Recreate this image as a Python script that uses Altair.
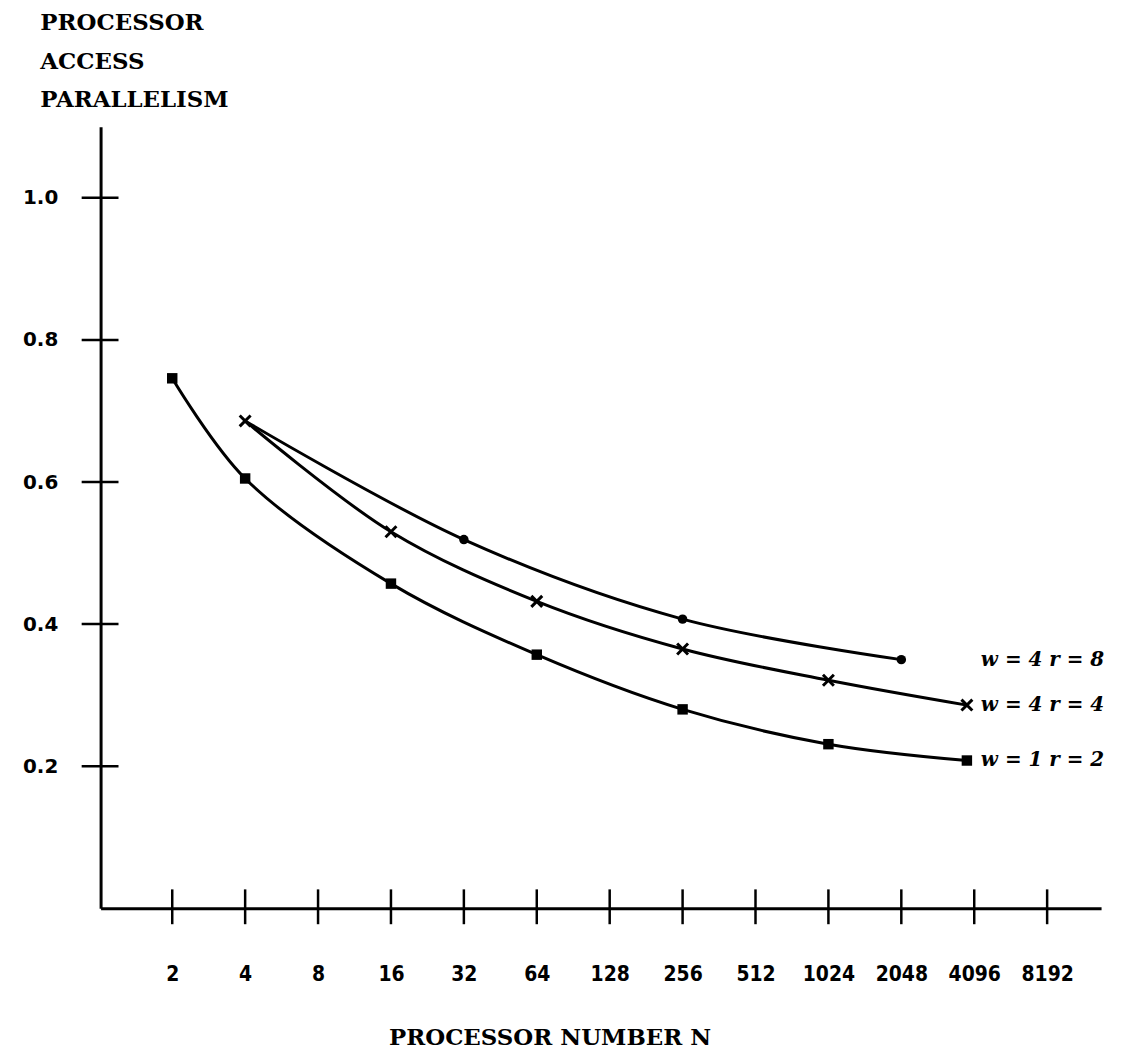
import altair as alt
import pandas as pd

# ---- data ----
N_w1r2 = [2, 4, 16, 64, 256, 1024, 3820]
P_w1r2 = [0.746, 0.605, 0.457, 0.357, 0.280, 0.231, 0.208]

N_w4r4 = [4, 16, 64, 256, 1024, 3820]
P_w4r4 = [0.686, 0.530, 0.432, 0.365, 0.321, 0.286]

N_w4r8 = [4, 32, 256, 2048]
P_w4r8 = [0.686, 0.519, 0.407, 0.350]

series_names = ["w=1 r=2", "w=4 r=4", "w=4 r=8"]
series_labels = ["w = 1   r = 2", "w = 4   r = 4", "w = 4   r = 8"]
label_N = [3820, 3820, 3820]
label_P = [0.208, 0.286, 0.350]

x_ticks = [2, 4, 8, 16, 32, 64, 128, 256, 512, 1024, 2048, 4096, 8192]
y_ticks = [0.2, 0.4, 0.6, 0.8, 1.0]

rows = []
for s, ns, ps in zip(series_names, [N_w1r2, N_w4r4, N_w4r8], [P_w1r2, P_w4r4, P_w4r8]):
    for n, p in zip(ns, ps):
        rows.append({"series": s, "N": n, "P": p})
df = pd.DataFrame(rows)
lab_df = pd.DataFrame({"series": series_names, "label": series_labels, "N": label_N, "P": label_P})
xt_df = pd.DataFrame({"N": x_ticks})
yt_df = pd.DataFrame({"P": y_ticks})

W, H = 1005, 785
xscale = alt.Scale(type="log", base=2, domain=[1.012, 13680], nice=False)
yscale = alt.Scale(domain=[0, 1.1], nice=False, zero=True)

SERIF = "DejaVu Serif"

x_enc = alt.X(
    "N:Q", scale=xscale,
    axis=alt.Axis(
        values=x_ticks, format="d", ticks=False, grid=False,
        domainColor="black", domainWidth=3,
        labelFont="DejaVu Sans Condensed, Liberation Sans, sans-serif", labelFontWeight="bold",
        labelFontSize=21, labelColor="black", labelPadding=56, labelBaseline="top",
        labelFlush=False,
        title="PROCESSOR NUMBER N", titleFont=SERIF, titleFontWeight="bold",
        titleFontSize=23, titleColor="black", titleX=451, titleY=130,
        titleAlign="center", titleBaseline="middle",
    ),
)
y_enc = alt.Y(
    "P:Q", scale=yscale,
    axis=alt.Axis(
        values=y_ticks, format=".1f", ticks=False, grid=False,
        domainColor="black", domainWidth=3,
        labelFont="DejaVu Sans", labelFontWeight="bold", labelFontSize=20,
        labelColor="black", labelPadding=43,
        title=["PROCESSOR", "ACCESS", "PARALLELISM"], titleFont=SERIF,
        titleFontWeight="bold", titleFontSize=23, titleColor="black",
        titleAngle=0, titleAlign="left", titleBaseline="top",
        titleX=-61, titleY=-116, titleLineHeight=39,
    ),
)

lines = alt.Chart(df).mark_line(color="black", strokeWidth=3, interpolate="catmull-rom").encode(
    x=x_enc, y=y_enc, detail="series:N"
)

sq = alt.Chart(df).transform_filter(alt.datum.series == "w=1 r=2").mark_point(
    shape="square", filled=True, color="black", size=110, opacity=1
).encode(x="N:Q", y="P:Q")

xs = alt.Chart(df).transform_filter(alt.datum.series == "w=4 r=4").mark_point(
    shape="M-1,-1L1,1M1,-1L-1,1", filled=False, color="black", strokeWidth=3, size=120, opacity=1
).encode(x="N:Q", y="P:Q")

circ = alt.Chart(df).transform_filter(
    (alt.datum.series == "w=4 r=8") & (alt.datum.N > 4)
).mark_point(shape="circle", filled=True, color="black", size=90, opacity=1).encode(x="N:Q", y="P:Q")

labels = alt.Chart(lab_df).mark_text(
    align="left", baseline="middle", dx=14, font=SERIF, fontStyle="italic",
    fontWeight="bold", fontSize=20, color="black"
).encode(x="N:Q", y="P:Q", text="label:N")

yticks = alt.Chart(yt_df).mark_rule(color="black", strokeWidth=2.5).encode(
    y="P:Q", x=alt.value(-19), x2=alt.value(18)
)
xticks = alt.Chart(xt_df).mark_rule(color="black", strokeWidth=2.5).encode(
    x="N:Q", y=alt.value(766), y2=alt.value(801)
)

chart = alt.layer(lines, sq, xs, circ, labels, yticks, xticks).properties(
    width=W, height=H,
    autosize=alt.AutoSizeParams(type="none"),
    padding={"left": 93, "top": 117, "right": 16, "bottom": 140},
).configure(background="white").configure_view(strokeWidth=0, stroke=None)

chart.save("out.html", embed_options={"renderer": "svg", "actions": False})
